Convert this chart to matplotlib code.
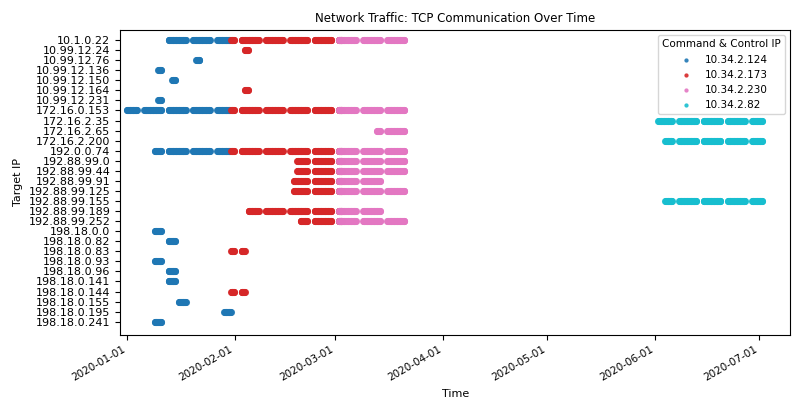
import matplotlib
matplotlib.use("Agg")
import matplotlib.pyplot as plt
import matplotlib.dates as mdates
import pandas as pd

# target IPs, top to bottom
targets = [
    "10.1.0.22", "10.99.12.24", "10.99.12.76", "10.99.12.136", "10.99.12.150",
    "10.99.12.164", "10.99.12.231", "172.16.0.153", "172.16.2.35", "172.16.2.65",
    "172.16.2.200", "192.0.0.74", "192.88.99.0", "192.88.99.44", "192.88.99.91",
    "192.88.99.125", "192.88.99.155", "192.88.99.189", "192.88.99.252", "198.18.0.0",
    "198.18.0.82", "198.18.0.83", "198.18.0.93", "198.18.0.96", "198.18.0.141",
    "198.18.0.144", "198.18.0.155", "198.18.0.195", "198.18.0.241",
]
c2_ips = ["10.34.2.124", "10.34.2.173", "10.34.2.230", "10.34.2.82"]
colors = ["#1f77b4", "#d62728", "#e377c2", "#17becf"]

# activity windows: (target, c2, first day, last day), weekdays only
activity = [
    ("10.1.0.22", "10.34.2.124", "2020-01-13", "2020-01-30"),
    ("10.1.0.22", "10.34.2.173", "2020-01-31", "2020-03-02"),
    ("10.1.0.22", "10.34.2.230", "2020-03-02", "2020-03-20"),
    ("10.99.12.24", "10.34.2.173", "2020-02-04", "2020-02-04"),
    ("10.99.12.76", "10.34.2.124", "2020-01-21", "2020-01-21"),
    ("10.99.12.136", "10.34.2.124", "2020-01-10", "2020-01-10"),
    ("10.99.12.150", "10.34.2.124", "2020-01-14", "2020-01-14"),
    ("10.99.12.164", "10.34.2.173", "2020-02-04", "2020-02-04"),
    ("10.99.12.231", "10.34.2.124", "2020-01-10", "2020-01-10"),
    ("172.16.0.153", "10.34.2.124", "2020-01-01", "2020-01-30"),
    ("172.16.0.153", "10.34.2.173", "2020-01-31", "2020-03-02"),
    ("172.16.0.153", "10.34.2.230", "2020-03-02", "2020-03-20"),
    ("172.16.2.35", "10.34.2.82", "2020-06-02", "2020-07-01"),
    ("172.16.2.65", "10.34.2.230", "2020-03-13", "2020-03-13"),
    ("172.16.2.65", "10.34.2.230", "2020-03-16", "2020-03-20"),
    ("172.16.2.200", "10.34.2.82", "2020-06-04", "2020-07-01"),
    ("192.0.0.74", "10.34.2.124", "2020-01-09", "2020-01-30"),
    ("192.0.0.74", "10.34.2.173", "2020-01-31", "2020-03-02"),
    ("192.0.0.74", "10.34.2.230", "2020-03-02", "2020-03-20"),
    ("192.88.99.0", "10.34.2.173", "2020-02-19", "2020-03-02"),
    ("192.88.99.0", "10.34.2.230", "2020-03-02", "2020-03-20"),
    ("192.88.99.44", "10.34.2.173", "2020-02-19", "2020-03-02"),
    ("192.88.99.44", "10.34.2.230", "2020-03-02", "2020-03-20"),
    ("192.88.99.91", "10.34.2.173", "2020-02-18", "2020-03-02"),
    ("192.88.99.91", "10.34.2.230", "2020-03-02", "2020-03-13"),
    ("192.88.99.125", "10.34.2.173", "2020-02-18", "2020-03-02"),
    ("192.88.99.125", "10.34.2.230", "2020-03-02", "2020-03-20"),
    ("192.88.99.155", "10.34.2.82", "2020-06-04", "2020-07-01"),
    ("192.88.99.189", "10.34.2.173", "2020-02-05", "2020-03-02"),
    ("192.88.99.189", "10.34.2.230", "2020-03-02", "2020-03-13"),
    ("192.88.99.252", "10.34.2.173", "2020-02-20", "2020-03-02"),
    ("192.88.99.252", "10.34.2.230", "2020-03-02", "2020-03-20"),
    ("198.18.0.0", "10.34.2.124", "2020-01-09", "2020-01-10"),
    ("198.18.0.82", "10.34.2.124", "2020-01-13", "2020-01-14"),
    ("198.18.0.83", "10.34.2.173", "2020-01-31", "2020-01-31"),
    ("198.18.0.83", "10.34.2.173", "2020-02-03", "2020-02-03"),
    ("198.18.0.93", "10.34.2.124", "2020-01-09", "2020-01-10"),
    ("198.18.0.96", "10.34.2.124", "2020-01-13", "2020-01-14"),
    ("198.18.0.141", "10.34.2.124", "2020-01-13", "2020-01-14"),
    ("198.18.0.144", "10.34.2.173", "2020-01-31", "2020-01-31"),
    ("198.18.0.144", "10.34.2.173", "2020-02-03", "2020-02-03"),
    ("198.18.0.155", "10.34.2.124", "2020-01-16", "2020-01-17"),
    ("198.18.0.195", "10.34.2.124", "2020-01-29", "2020-01-30"),
    ("198.18.0.241", "10.34.2.124", "2020-01-09", "2020-01-10"),
]

rows = []
for ip, c2, start, end in activity:
    for day in pd.bdate_range(start, end):
        for h in range(0, 24, 3):
            rows.append((ip, c2, day + pd.Timedelta(hours=h)))
df = pd.DataFrame(rows, columns=["target", "c2", "time"])
ypos = {ip: i for i, ip in enumerate(targets)}

fig, ax = plt.subplots(figsize=(8, 4), dpi=100)
for c2, col in zip(c2_ips, colors):
    sub = df[df["c2"] == c2]
    ax.scatter(sub["time"], sub["target"].map(ypos), s=26, color=col, label=c2, alpha=0.9, linewidths=0)

ax.set_yticks(range(len(targets)))
ax.set_yticklabels(targets, fontsize=8)
ax.set_ylim(len(targets) + 0.3, -1.0)
ax.set_xlim(pd.Timestamp("2019-12-30"), pd.Timestamp("2020-07-10"))
ax.xaxis.set_major_locator(mdates.MonthLocator())
ax.xaxis.set_major_formatter(mdates.DateFormatter("%Y-%m-%d"))
ax.tick_params(axis="x", labelsize=7.5)
for lbl in ax.get_xticklabels():
    lbl.set_rotation(30)
    lbl.set_ha("right")
ax.set_xlabel("Time", fontsize=8)
ax.set_ylabel("Target IP", fontsize=8)
ax.set_title("Network Traffic: TCP Communication Over Time", fontsize=8.5)
ax.legend(title="Command & Control IP", fontsize=7.5, title_fontsize=7.5,
          loc="upper right", markerscale=0.6)
fig.subplots_adjust(left=0.15, right=0.988, top=0.925, bottom=0.163)
fig.savefig("out.png", dpi=100)
